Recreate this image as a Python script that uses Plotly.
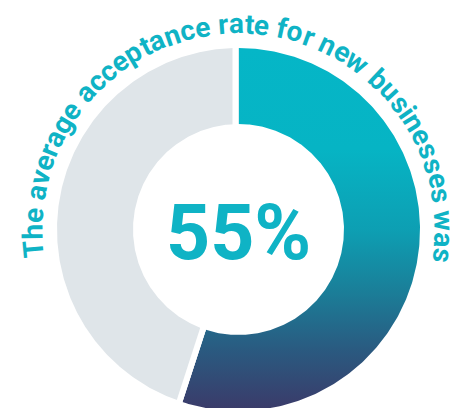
import numpy as np
import plotly.graph_objects as go

# ---- data ----
labels = ["Accepted", "Not accepted"]
values = [55, 45]
headline = "The average acceptance rate for new businesses was"
center_label = f"{values[0]}%"

# ---- style ----
TEAL = "#0FB3C5"
GRAY = "#DFE5E9"
GRADIENT = [[0.0, "#3B3A69"], [0.168, "#2A5A80"], [0.333, "#1A7F99"],
            [0.5, "#0D9FB3"], [0.72, "#06B4C4"], [1.0, "#05B6C7"]]
PX = 181.5                      # pixels per unit (outer radius)
R_OUT, R_IN = 1.0, 105.5 / PX
FONT = "Roboto"

fig = go.Figure()

def ring(a0, a1, r_in, r_out, n=300):
    t = np.radians(np.linspace(a0, a1, n))
    xo, yo = r_out * np.sin(t), r_out * np.cos(t)
    xi, yi = r_in * np.sin(t[::-1]), r_in * np.cos(t[::-1])
    x = np.concatenate([xo, xi, xo[:1]])
    y = np.concatenate([yo, yi, yo[:1]])
    return x, y

total = sum(values)
angles = np.cumsum([0] + [v / total * 360 for v in values])

# accepted slice (gradient)
x, y = ring(angles[0], angles[1], R_IN, R_OUT)
fig.add_trace(go.Scatter(x=x, y=y, mode="lines", fill="toself",
                         line=dict(width=0, color="rgba(0,0,0,0)"),
                         fillgradient=dict(type="vertical", colorscale=GRADIENT,
                                           start=-1, stop=1),
                         name=labels[0], hoverinfo="skip", showlegend=False))
# remainder slice
x, y = ring(angles[1], angles[2], R_IN, R_OUT)
fig.add_trace(go.Scatter(x=x, y=y, mode="lines", fill="toself",
                         line=dict(width=0, color="rgba(0,0,0,0)"),
                         fillcolor=GRAY, name=labels[1],
                         hoverinfo="skip", showlegend=False))

# white separators on the boundaries (offset into the grey side)
d = 3 / PX
for phi, sign in [(angles[0], -1), (angles[1], 1)]:
    p = np.radians(phi)
    ux, uy = np.sin(p), np.cos(p)
    px_, py_ = sign * np.cos(p), -sign * np.sin(p)
    r = np.array([R_IN - 0.05, R_OUT + 0.05])
    fig.add_trace(go.Scatter(x=r * ux + d * px_, y=r * uy + d * py_, mode="lines",
                             line=dict(width=6, color="white"),
                             hoverinfo="skip", showlegend=False))

# ---- curved headline ----
adv = {" ": .25, "T": .61, "h": .56, "e": .53, "a": .54, "v": .50, "r": .36,
       "g": .56, "c": .52, "p": .56, "t": .34, "n": .56, "f": .36, "o": .57,
       "w": .75, "b": .56, "u": .56, "s": .52, "i": .26}
FS = 28
R_BASE = 196.0
a_start, a_end = -97.9, 99.5
widths = np.array([adv.get(ch, .55) for ch in headline])
span = np.radians(a_end - a_start) * R_BASE
scale = span / widths.sum()
cum = np.concatenate([[0], np.cumsum(widths)[:-1]]) * scale
mid = cum + widths * scale / 2
R_C = (R_BASE + 0.342 * FS) / PX
for ch, m in zip(headline, mid):
    if ch == " ":
        continue
    th = a_start + np.degrees(m / R_BASE)
    t = np.radians(th)
    fig.add_annotation(x=R_C * np.sin(t), y=R_C * np.cos(t), text=ch,
                       textangle=th, showarrow=False, xanchor="center",
                       yanchor="middle", xref="x", yref="y",
                       font=dict(family=FONT, size=FS, color=TEAL, weight=700))

# ---- centre label ----
fig.add_annotation(x=0, y=-3 / PX, text=center_label, showarrow=False,
                   xanchor="center", yanchor="middle", xref="x", yref="y",
                   font=dict(family=FONT, size=77, color=TEAL, weight=700))

fig.update_layout(
    width=460, height=408, margin=dict(l=0, r=0, t=0, b=0),
    paper_bgcolor="white", plot_bgcolor="white", showlegend=False,
    xaxis=dict(range=[-238.5 / PX, 221.5 / PX], visible=False, fixedrange=True),
    yaxis=dict(range=[-178.5 / PX, 229.5 / PX], visible=False, fixedrange=True),
)
fig.write_html("out.html")
